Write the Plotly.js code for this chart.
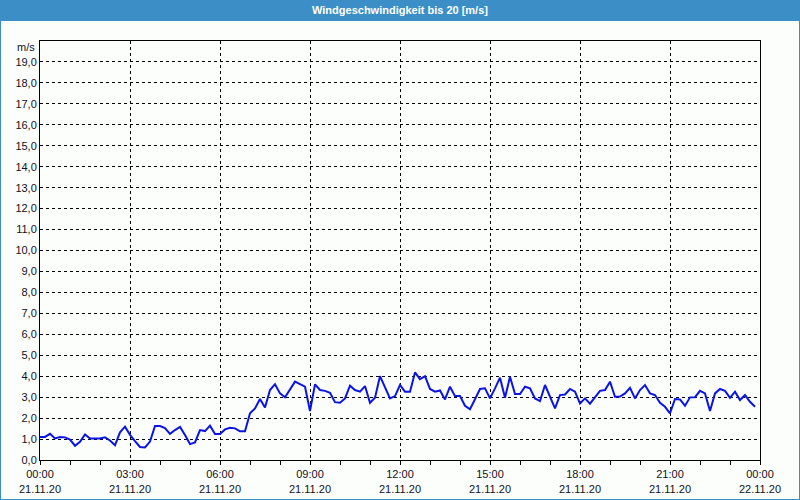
<!DOCTYPE html>
<html>
<head>
<meta charset="utf-8">
<script src="https://cdn.plot.ly/plotly-3.0.1.min.js"></script>
<style>
  html, body { margin: 0; padding: 0; background: #ffffff; }
  #wrap { position: relative; width: 800px; height: 500px; box-sizing: border-box; border: 1px solid #3c8fc6; border-top: none; background: #fcfefc; overflow: hidden; }
  #bar { position: absolute; left: 0; top: 0; width: 800px; height: 21px; background: #3c8fc6; }
  #chart { position: absolute; left: -1px; top: 0; width: 800px; height: 500px; }
</style>
</head>
<body>
<div id="wrap"><div id="bar"></div><div id="chart"></div></div>
<script>
// Wind speed readings, 10-minute interval, 21.11.20 00:00 .. 23:50 (m/s)
const startTime = '2020-11-21T00:00:00';
const stepMinutes = 10;
const windSpeed = [
  1.10, 1.10, 1.25, 1.03, 1.10, 1.08, 0.97, 0.68, 0.87, 1.22,
  1.03, 1.03, 1.03, 1.08, 0.93, 0.70, 1.32, 1.59, 1.20, 0.90,
  0.62, 0.60, 0.88, 1.62, 1.62, 1.52, 1.25, 1.43, 1.58, 1.19,
  0.76, 0.84, 1.43, 1.38, 1.64, 1.24, 1.24, 1.46, 1.54, 1.51,
  1.37, 1.37, 2.23, 2.46, 2.91, 2.51, 3.34, 3.62, 3.18, 2.99,
  3.34, 3.74, 3.62, 3.50, 2.34, 3.61, 3.34, 3.30, 3.21, 2.76,
  2.73, 2.94, 3.55, 3.34, 3.26, 3.53, 2.73, 2.97, 4.00, 3.45,
  2.94, 3.05, 3.58, 3.26, 3.26, 4.18, 3.86, 4.00, 3.39, 3.26,
  3.32, 2.89, 3.50, 3.05, 3.05, 2.59, 2.42, 2.90, 3.39, 3.42,
  2.94, 3.42, 3.93, 2.97, 3.97, 3.15, 3.15, 3.50, 3.42, 2.94,
  2.81, 3.58, 3.02, 2.46, 3.10, 3.13, 3.39, 3.26, 2.70, 2.94,
  2.69, 3.02, 3.30, 3.34, 3.74, 3.02, 3.03, 3.18, 3.45, 2.94,
  3.34, 3.58, 3.18, 3.10, 2.73, 2.54, 2.23, 2.91, 2.89, 2.59,
  2.99, 3.00, 3.30, 3.18, 2.34, 3.18, 3.39, 3.30, 2.97, 3.26,
  2.86, 3.10, 2.78, 2.54
];
const xTickVals = ['2020-11-21 00:00','2020-11-21 03:00','2020-11-21 06:00','2020-11-21 09:00',
  '2020-11-21 12:00','2020-11-21 15:00','2020-11-21 18:00','2020-11-21 21:00','2020-11-22 00:00'];
const xTickText = ['00:00<br>21.11.20','03:00<br>21.11.20','06:00<br>21.11.20','09:00<br>21.11.20',
  '12:00<br>21.11.20','15:00<br>21.11.20','18:00<br>21.11.20','21:00<br>21.11.20','00:00<br>22.11.20'];
const yTickVals = [0,1,2,3,4,5,6,7,8,9,10,11,12,13,14,15,16,17,18,19];
const titleText = 'Windgeschwindigkeit bis 20 [m/s]';
const unitText = 'm/s';

const t0 = new Date(startTime + 'Z').getTime();
const pad = n => String(n).padStart(2, '0');
const times = windSpeed.map((_, i) => {
  const d = new Date(t0 + i * stepMinutes * 60000);
  return d.getUTCFullYear() + '-' + pad(d.getUTCMonth() + 1) + '-' + pad(d.getUTCDate()) + ' ' +
         pad(d.getUTCHours()) + ':' + pad(d.getUTCMinutes());
});

const font = 'Liberation Sans, Arial, sans-serif';
const trace = {
  x: times, y: windSpeed, type: 'scatter', mode: 'lines',
  line: { color: '#0a14e6', width: 2 }, hoverinfo: 'x+y'
};
const layout = {
  width: 800, height: 500,
  margin: { l: 40, r: 40, t: 41, b: 40, pad: 0 },
  paper_bgcolor: 'rgba(0,0,0,0)', plot_bgcolor: '#fcfefc',
  separators: ',.',
  showlegend: false,
  font: { family: font, size: 11, color: '#111122' },
  title: { text: titleText, font: { family: font, size: 11, color: '#ffffff', weight: 'bold' },
           x: 0.5, xanchor: 'center', yref: 'container', y: 1 - 10.5/500, yanchor: 'middle' },
  xaxis: {
    type: 'date', range: ['2020-11-21 00:00', '2020-11-22 00:00'],
    tickmode: 'array', tickvals: xTickVals, ticktext: xTickText,
    showgrid: true, gridcolor: '#000000', gridwidth: 1, griddash: '3px,3px',
    showline: true, linecolor: '#000000', linewidth: 1, mirror: true,
    ticks: 'outside', ticklen: 4, tickcolor: '#000000',
    minor: { dtick: 3600000, ticks: 'outside', ticklen: 4, tickcolor: '#000000', showgrid: false },
    zeroline: false, fixedrange: true
  },
  yaxis: {
    range: [0, 20], tickmode: 'array', tickvals: yTickVals, tickformat: '.1f',
    showgrid: true, gridcolor: '#000000', gridwidth: 1, griddash: '3px,3px',
    showline: true, linecolor: '#000000', linewidth: 1, mirror: true,
    ticks: '', zeroline: false, fixedrange: true
  },
  annotations: [{
    text: unitText, xref: 'paper', x: 0, xanchor: 'right', xshift: -3,
    yref: 'y', y: 19.7, yanchor: 'middle', showarrow: false,
    font: { family: font, size: 11, color: '#111122' }
  }]
};
Plotly.newPlot('chart', [trace], layout, { displayModeBar: false, staticPlot: true });
</script>
</body>
</html>
